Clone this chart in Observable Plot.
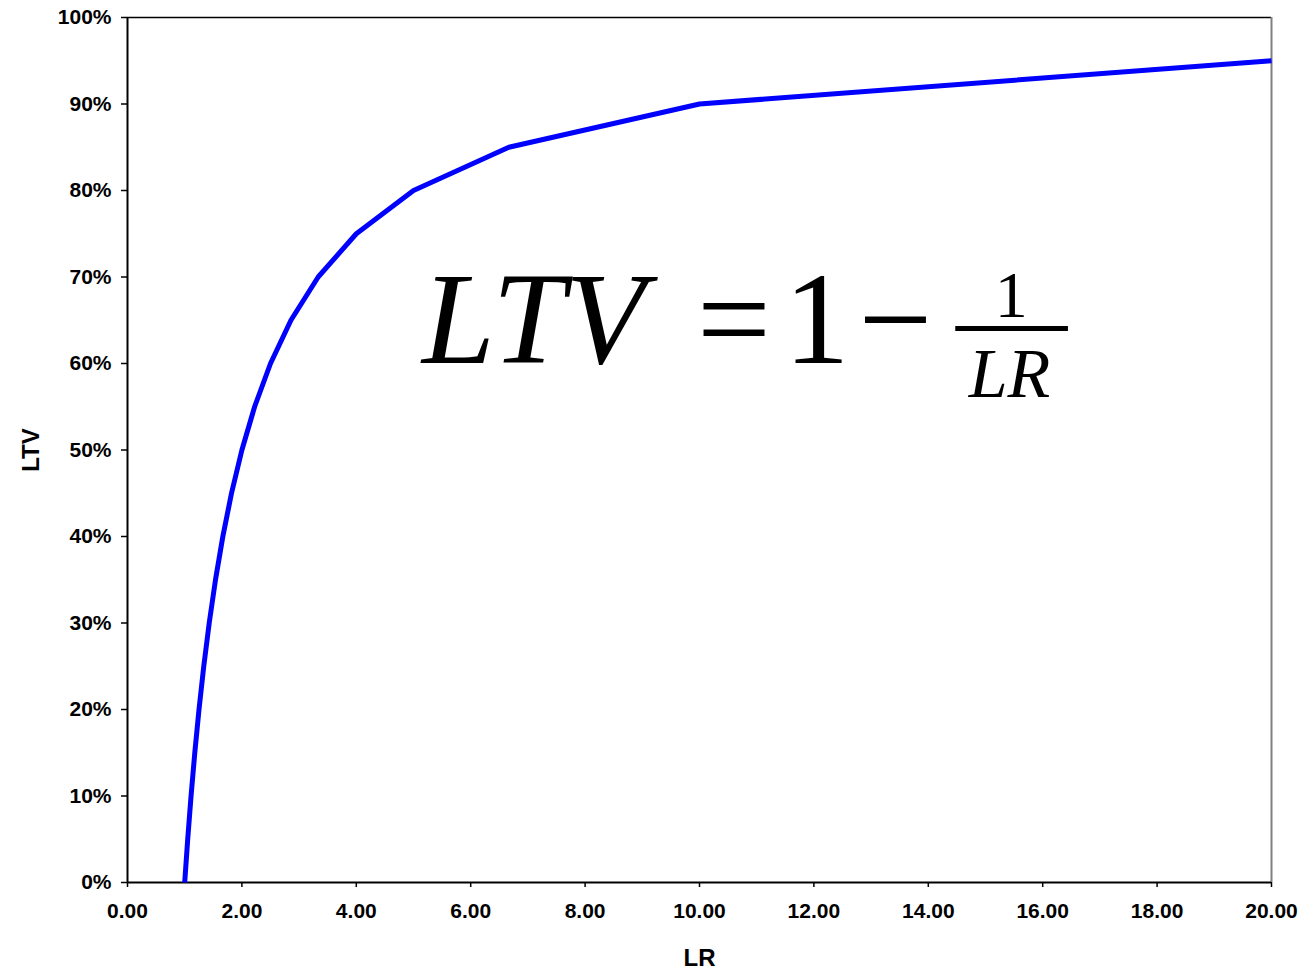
<!DOCTYPE html>
<html>
<head>
<meta charset="utf-8">
<script src="https://cdn.jsdelivr.net/npm/d3@7"></script>
<script src="https://cdn.jsdelivr.net/npm/@observablehq/plot@0.6"></script>
<style>
  html, body { margin: 0; padding: 0; background: #fff; }
  #chart svg { display: block; }
</style>
</head>
<body>
<div id="chart"></div>
<script>
// Loan-to-value vs leverage ratio
const lrValues = [1.0, 1.0526, 1.1111, 1.1765, 1.25, 1.3333, 1.4286, 1.5385, 1.6667, 1.8182, 2.0, 2.2222, 2.5, 2.8571, 3.3333, 4.0, 5.0, 6.6667, 10.0, 20.0];
const ltvValues = [0.00, 0.05, 0.10, 0.15, 0.20, 0.25, 0.30, 0.35, 0.40, 0.45, 0.50, 0.55, 0.60, 0.65, 0.70, 0.75, 0.80, 0.85, 0.90, 0.95];
const xTicks = [0, 2, 4, 6, 8, 10, 12, 14, 16, 18, 20];
const yTicks = [0, 0.1, 0.2, 0.3, 0.4, 0.5, 0.6, 0.7, 0.8, 0.9, 1.0];
const xLabel = "LR";
const yLabel = "LTV";

// formula annotation pieces (anchor in data units)
const formulaBig = [
  {x: 5.15, y: 0.601, text: "LTV", italic: true},
  {x: 10.6, y: 0.601, text: "=", italic: false},
  {x: 12.05, y: 0.601, text: "1", italic: false}
];
const formulaMinus = [{x: 13.42, y: 0.601, text: "\u2212"}];
const fracLine = [{x1: 14.48, x2: 16.45, y: 0.6405}];
const formulaSmall = [
  {x: 15.45, y: 0.654, text: "1", italic: false},
  {x: 15.42, y: 0.5615, text: "LR", italic: true}
];

const data = lrValues.map((lr, i) => ({lr, ltv: ltvValues[i]}));
const serif = "'Liberation Serif', 'Times New Roman', serif";

const plot = Plot.plot({
  width: 1306,
  height: 973,
  marginLeft: 127,
  marginRight: 35,
  marginTop: 17,
  marginBottom: 91,
  style: {fontFamily: "'Liberation Sans', Arial, sans-serif", fontSize: "21px", fontWeight: "bold", color: "#000", background: "#fff"},
  x: {domain: [0, 20]},
  y: {domain: [0, 1]},
  marks: [
    Plot.ruleY([1], {stroke: "#000", strokeWidth: 1.5}),
    Plot.ruleX([20], {stroke: "#808080", strokeWidth: 2}),
    Plot.axisX({ticks: xTicks, tickSize: 5, tickPadding: 16, tickFormat: d => d.toFixed(2), label: null, fontSize: 21, fontWeight: "bold", strokeWidth: 1.5}),
    Plot.axisY({ticks: yTicks, tickSize: 6, tickPadding: 10, tickFormat: d => Math.round(d * 100) + "%", label: null, fontSize: 21, fontWeight: "bold", strokeWidth: 1.5}),
    Plot.ruleX([0], {stroke: "#000", strokeWidth: 2}),
    Plot.ruleY([0], {stroke: "#000", strokeWidth: 2}),
    Plot.line(data, {x: "lr", y: "ltv", stroke: "#0000FF", strokeWidth: 5, strokeLinejoin: "miter", strokeLinecap: "butt", curve: "linear"}),
    Plot.text([xLabel], {frameAnchor: "bottom", dy: 83, text: d => d, fontSize: 24, fontWeight: "bold", lineAnchor: "bottom", textAnchor: "middle"}),
    Plot.text([yLabel], {frameAnchor: "left", dx: -96, rotate: -90, text: d => d, fontSize: 24, fontWeight: "bold", textAnchor: "middle", lineAnchor: "middle"}),
    Plot.text(formulaBig.filter(d => d.italic), {x: "x", y: "y", text: "text", textAnchor: "start", lineAnchor: "bottom", fontFamily: serif, fontStyle: "italic", fontWeight: "normal", fontSize: 131}),
    Plot.text(formulaBig.filter(d => !d.italic), {x: "x", y: "y", text: "text", textAnchor: "middle", lineAnchor: "bottom", fontFamily: serif, fontWeight: "normal", fontSize: 131}),
    Plot.text(formulaMinus, {x: "x", y: "y", text: "text", textAnchor: "middle", lineAnchor: "bottom", fontFamily: serif, fontWeight: "normal", fontSize: 131}),
    Plot.ruleY(fracLine, {x1: "x1", x2: "x2", y: "y", stroke: "#000", strokeWidth: 5}),
    Plot.text(formulaSmall.filter(d => !d.italic), {x: "x", y: "y", text: "text", textAnchor: "middle", lineAnchor: "bottom", fontFamily: serif, fontWeight: "normal", fontSize: 66}),
    Plot.text(formulaSmall.filter(d => d.italic), {x: "x", y: "y", text: "text", textAnchor: "middle", lineAnchor: "bottom", fontFamily: serif, fontStyle: "italic", fontWeight: "normal", fontSize: 70})
  ]
});
document.getElementById("chart").appendChild(plot);
</script>
</body>
</html>
